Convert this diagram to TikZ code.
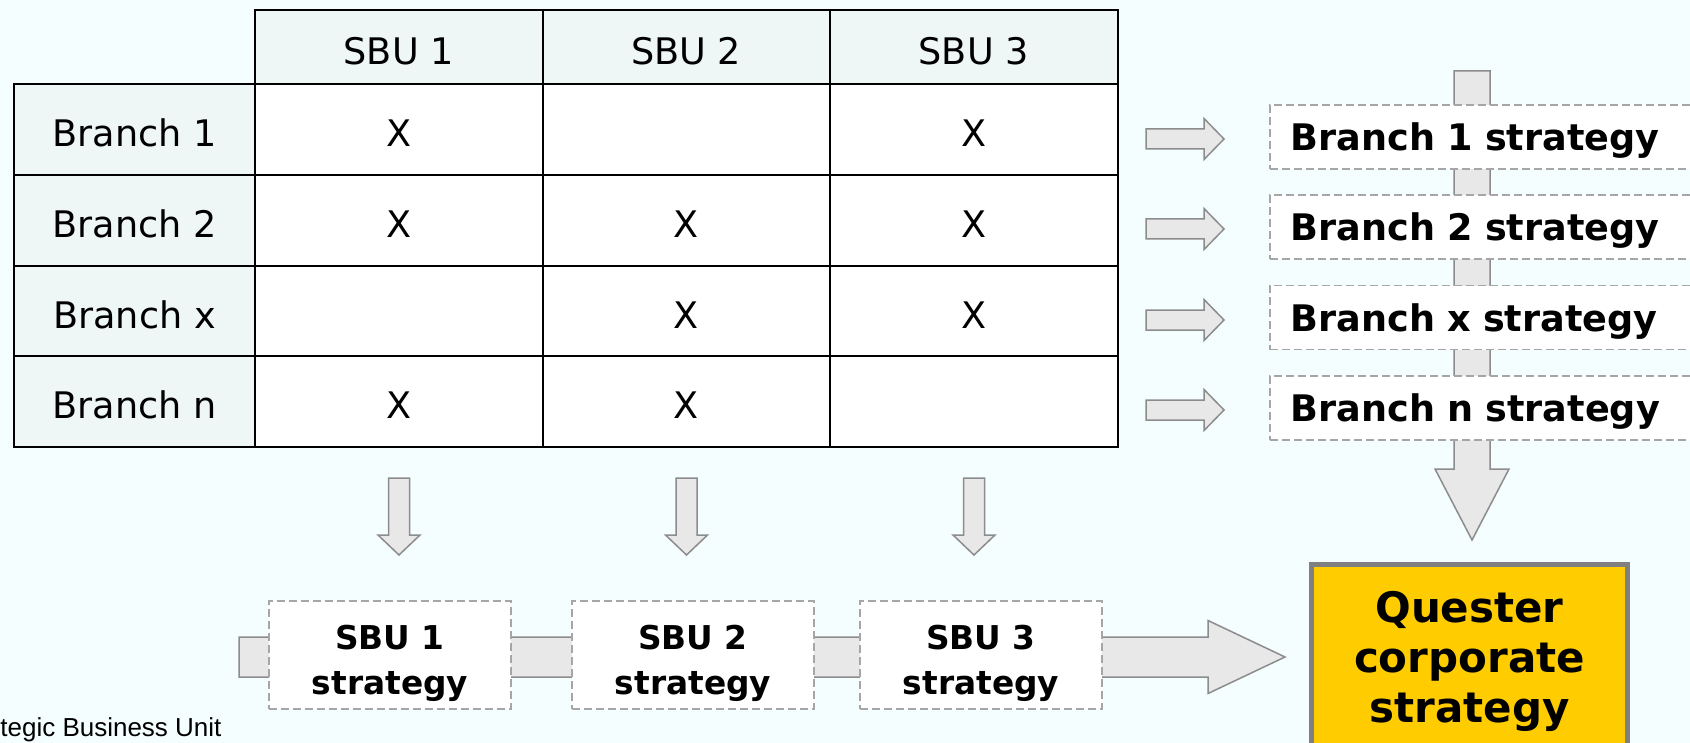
\documentclass[tikz,border=0pt]{standalone}
\usepackage{fontspec}
\setmainfont{DejaVu Sans}
\newfontfamily\notefont{Liberation Sans}
\usetikzlibrary{positioning}
\definecolor{bgcol}{HTML}{F5FEFE}
\definecolor{headcol}{HTML}{EEF7F6}
\definecolor{arrowfill}{HTML}{E8E8E8}
\definecolor{arrowline}{HTML}{8C8C8C}
\definecolor{questeryellow}{HTML}{FFCC00}
\tikzset{
 cell/.style={draw=black,line width=1pt,fill=white,inner sep=0pt,text height=17.2pt,text depth=0pt,font=\fontsize{18.3}{22}\selectfont},
 colhead/.style={cell,fill=headcol,minimum width=143.75pt,minimum height=37pt},
 rowhead/.style={cell,fill=headcol,minimum width=120.5pt,minimum height=45.375pt},
 datacell/.style={cell,minimum width=143.75pt,minimum height=45.375pt},
 blockarrow/.style={draw=arrowline,fill=arrowfill,line width=0.75pt},
 stratbox/.style={draw=black!35,dash pattern=on 4pt off 2pt,line width=0.75pt,fill=white,inner sep=0pt},
 branchbox/.style={stratbox,anchor=west,minimum height=32pt,text width=200pt,inner xsep=10.5pt,align=left,text height=18.3pt,text depth=4.4pt,font=\bfseries\fontsize{18.3}{22}\selectfont},
 sbubox/.style={stratbox,minimum width=121pt,minimum height=54pt,align=center,font=\bfseries\fontsize{16.4}{22.5}\selectfont}
}

\begin{document}
\begin{tikzpicture}[x=0.5pt,y=-0.5pt]
 \useasboundingbox (0,0) rectangle (1690,743);
 \fill[bgcol] (0,0) rectangle (1690,743);

 % table
 \node[colhead] (H1) at (398.75,47) {SBU 1};
 \node[colhead] (H2) at (686.25,47) {SBU 2};
 \node[colhead] (H3) at (973.75,47) {SBU 3};
 \node[rowhead] (R1) at (134.5,129.375) {Branch 1};
 \node[rowhead] (R2) at (134.5,220.125) {Branch 2};
 \node[rowhead] (R3) at (134.5,310.875) {Branch x};
 \node[rowhead] (R4) at (134.5,401.625) {Branch n};
 \node[datacell] (C11) at (398.75,129.375) {X};
 \node[datacell] (C12) at (686.25,129.375) {};
 \node[datacell] (C13) at (973.75,129.375) {X};
 \node[datacell] (C21) at (398.75,220.125) {X};
 \node[datacell] (C22) at (686.25,220.125) {X};
 \node[datacell] (C23) at (973.75,220.125) {X};
 \node[datacell] (C31) at (398.75,310.875) {};
 \node[datacell] (C32) at (686.25,310.875) {X};
 \node[datacell] (C33) at (973.75,310.875) {X};
 \node[datacell] (C41) at (398.75,401.625) {X};
 \node[datacell] (C42) at (686.25,401.625) {X};
 \node[datacell] (C43) at (973.75,401.625) {};

 % big arrows behind the boxes
 \coordinate (Vtop) at (1472,71);
 \coordinate (Hleft) at (239,657);
 \draw[blockarrow] (Vtop) ++(-18,0) -- ++(36,0) -- ++(0,398) -- ++(19,0) -- ++(-37,71) -- ++(-37,-71) -- ++(19,0) -- cycle;
 \draw[blockarrow] (Hleft) ++(0,-20) -- ++(969,0) -- ++(0,-16.5) -- ++(77,36.5) -- ++(-77,36.5) -- ++(0,-16.5) -- ++(-969,0) -- cycle;

 % branch strategies
 \node[branchbox] (B1) at (1269,137) {Branch 1 strategy};
 \node[branchbox] (B2) at (1269,227) {Branch 2 strategy};
 \node[branchbox] (B3) at (1269,317.5) {Branch x strategy};
 \node[branchbox] (B4) at (1269,408) {Branch n strategy};
 \coordinate (A1) at (1146,139);
 \coordinate (A2) at (1146,229);
 \coordinate (A3) at (1146,320);
 \coordinate (A4) at (1146,410);
 \draw[blockarrow] (A1) ++(0,-10) -- ++(58,0) -- ++(0,-10.5) -- ++(20,20.5) -- ++(-20,20.5) -- ++(0,-10.5) -- ++(-58,0) -- cycle;
 \draw[blockarrow] (A2) ++(0,-10) -- ++(58,0) -- ++(0,-10.5) -- ++(20,20.5) -- ++(-20,20.5) -- ++(0,-10.5) -- ++(-58,0) -- cycle;
 \draw[blockarrow] (A3) ++(0,-10) -- ++(58,0) -- ++(0,-10.5) -- ++(20,20.5) -- ++(-20,20.5) -- ++(0,-10.5) -- ++(-58,0) -- cycle;
 \draw[blockarrow] (A4) ++(0,-10) -- ++(58,0) -- ++(0,-10.5) -- ++(20,20.5) -- ++(-20,20.5) -- ++(0,-10.5) -- ++(-58,0) -- cycle;

 % SBU strategies
 \node[sbubox] (S1) at (390,655) {\rule{0pt}{21pt}SBU 1\\strategy};
 \node[sbubox] (S2) at (693,655) {\rule{0pt}{21pt}SBU 2\\strategy};
 \node[sbubox] (S3) at (981,655) {\rule{0pt}{21pt}SBU 3\\strategy};
 \coordinate (D1) at (399,478);
 \coordinate (D2) at (686.5,478);
 \coordinate (D3) at (974,478);
 \draw[blockarrow] (D1) ++(-10.5,0) -- ++(21,0) -- ++(0,57) -- ++(10.5,0) -- ++(-21,20) -- ++(-21,-20) -- ++(10.5,0) -- cycle;
 \draw[blockarrow] (D2) ++(-10.5,0) -- ++(21,0) -- ++(0,57) -- ++(10.5,0) -- ++(-21,20) -- ++(-21,-20) -- ++(10.5,0) -- cycle;
 \draw[blockarrow] (D3) ++(-10.5,0) -- ++(21,0) -- ++(0,57) -- ++(10.5,0) -- ++(-21,20) -- ++(-21,-20) -- ++(10.5,0) -- cycle;

 % corporate
 \node[draw=black!50,line width=2.5pt,fill=questeryellow,minimum width=158pt,minimum height=96.8pt,inner sep=0pt,align=center,font=\bfseries\fontsize{21}{25}\selectfont] (Q) at (1469.5,661.3) {Quester\\corporate\\strategy};

 \node[anchor=west,inner sep=0pt,font=\notefont\fontsize{13}{15}\selectfont] (N) at (0,730) {tegic Business Unit};
\end{tikzpicture}
\end{document}
